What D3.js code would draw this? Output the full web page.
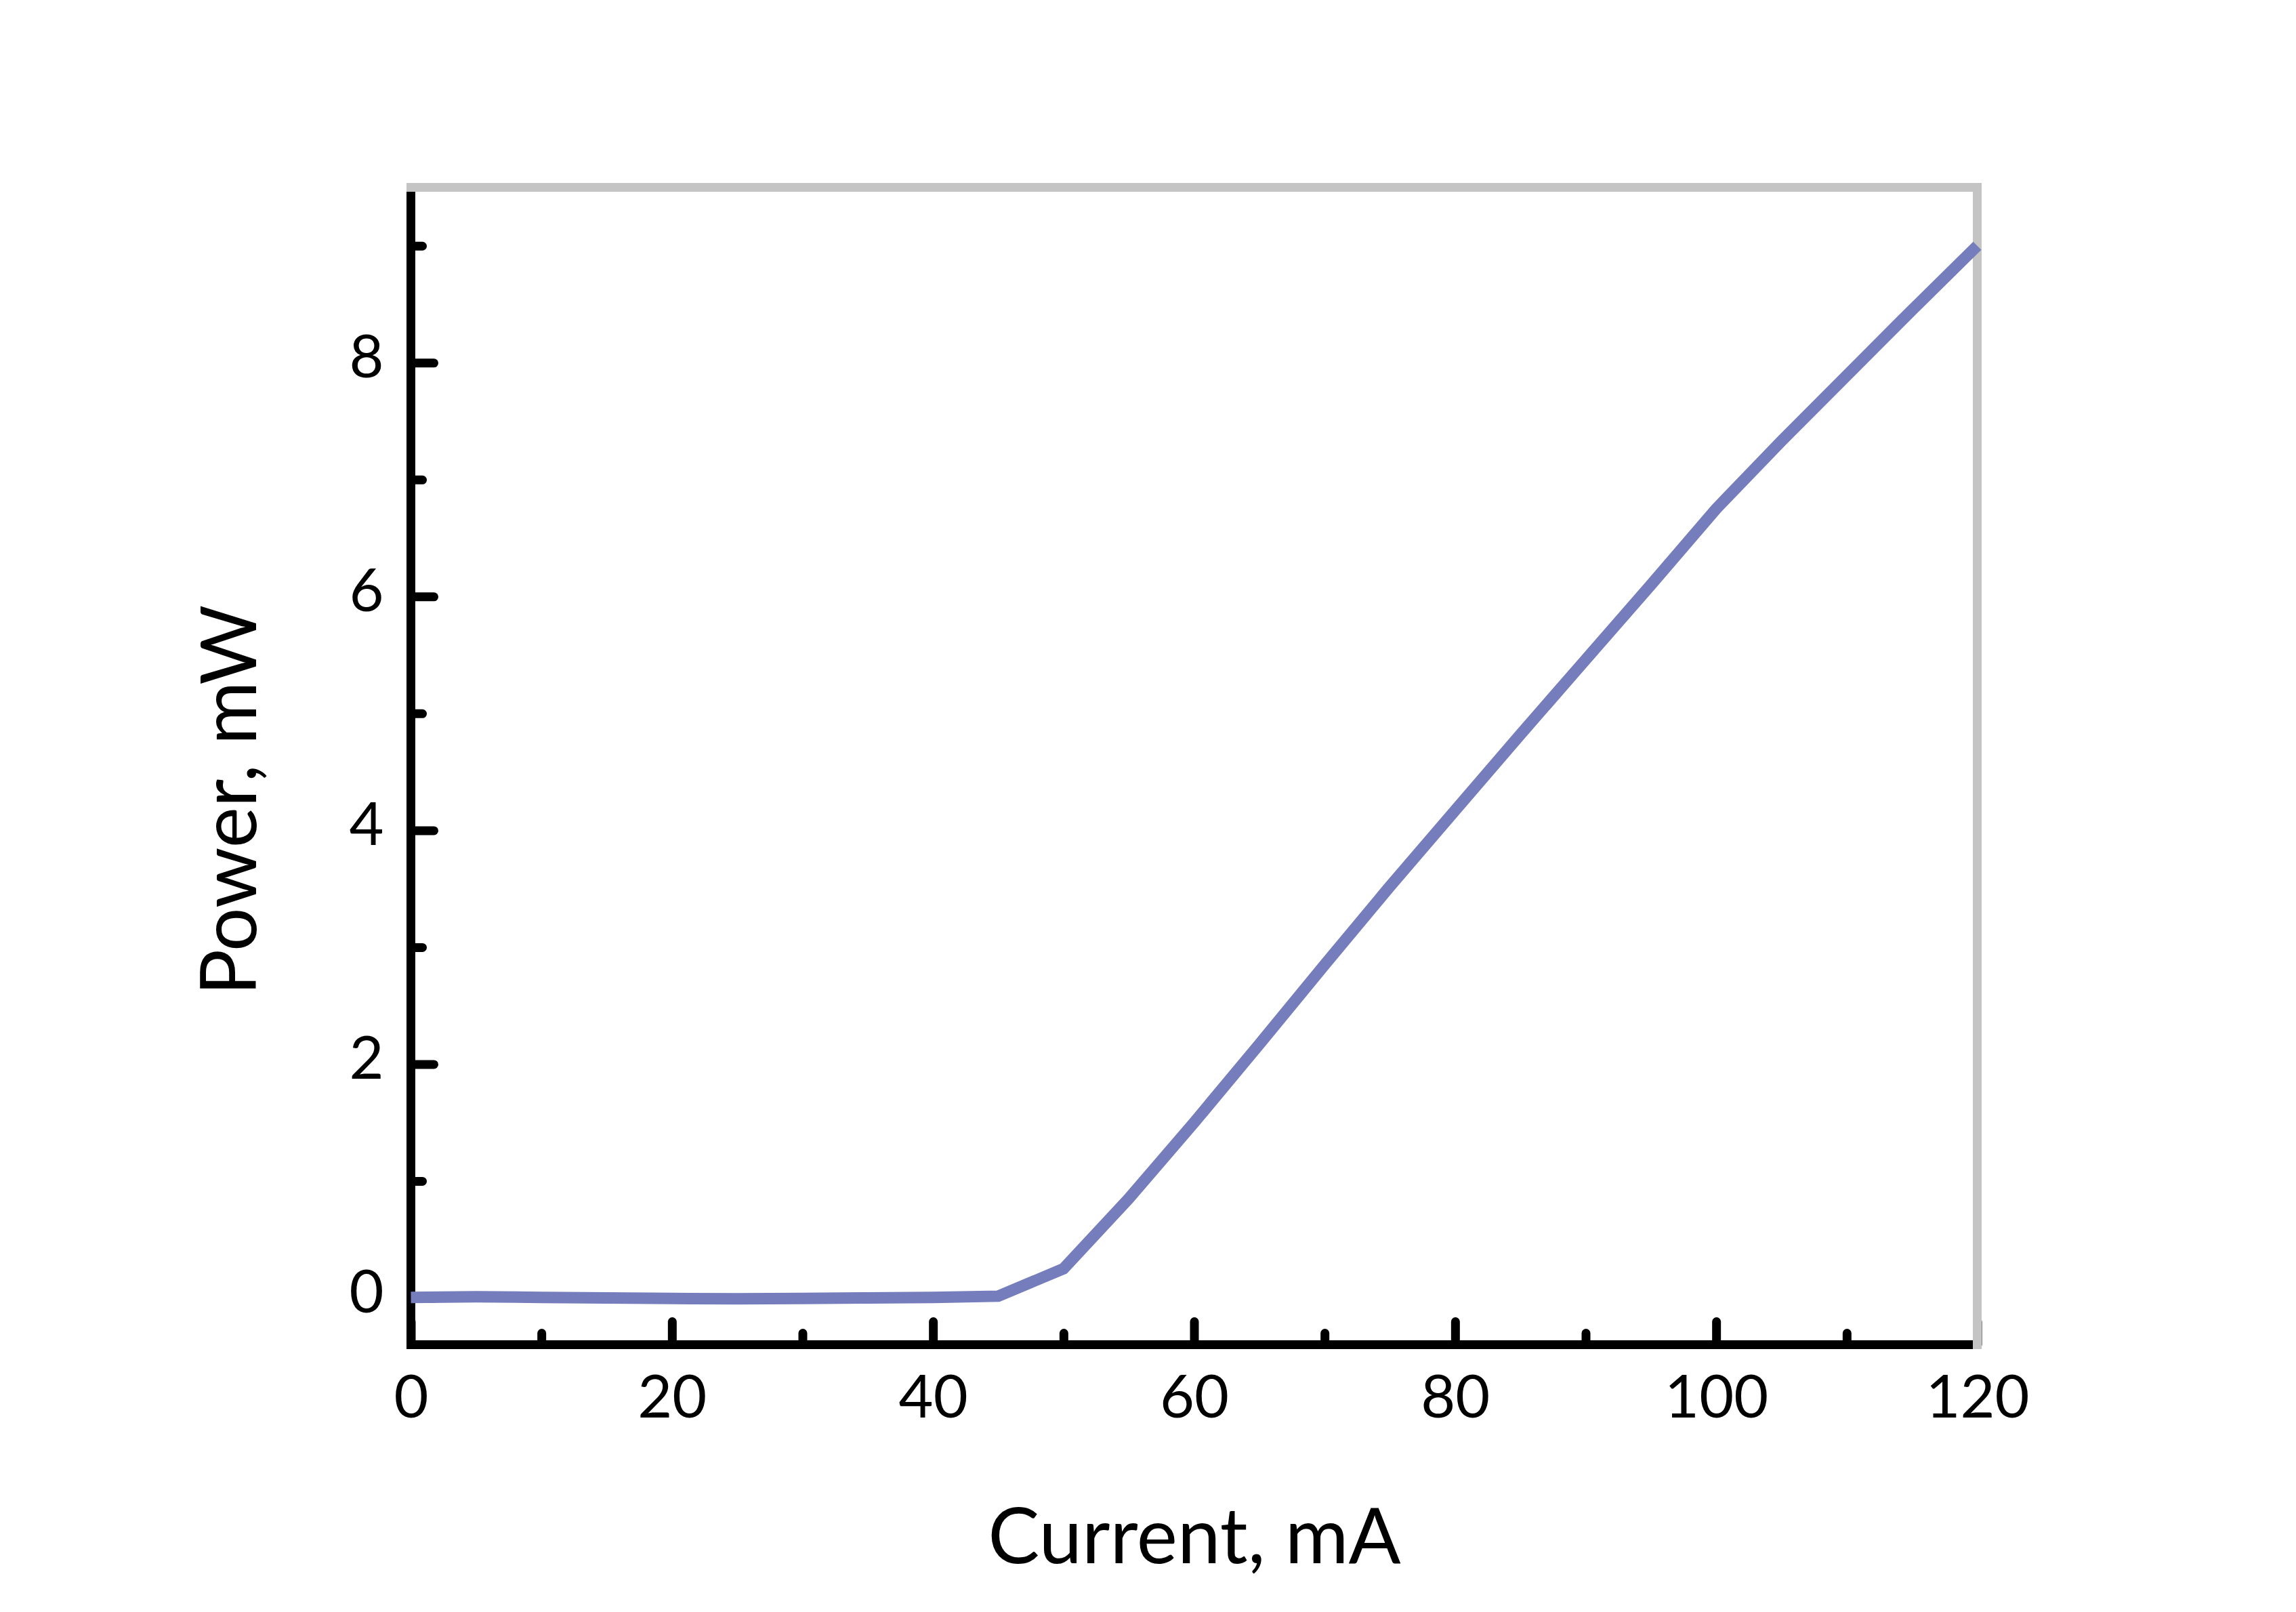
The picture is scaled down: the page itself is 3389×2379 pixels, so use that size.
<!DOCTYPE html>
<html>
<head>
<meta charset="utf-8">
<script src="https://cdn.jsdelivr.net/npm/d3@7"></script>
<style>
  html, body { margin: 0; padding: 0; background: #ffffff; }
  svg { display: block; }
</style>
</head>
<body>
<svg id="chart" width="3389" height="2379"></svg>
<script>
// ---- data ----
const currentMA = [0, 5, 10, 15, 20, 25, 30, 35, 40, 45, 50, 55, 60, 65, 70, 75, 80, 85, 90, 95, 100, 105, 110, 115, 120];
const powerMW   = [0.005, 0.01, 0.005, 0.0, -0.005, -0.008, -0.005, 0.0, 0.005, 0.015, 0.25, 0.85, 1.5, 2.17, 2.85, 3.52, 4.17, 4.82, 5.46, 6.1, 6.75, 7.33, 7.89, 8.45, 9.0];
const xMajorTicks = [0, 20, 40, 60, 80, 100, 120];
const xMinorTicks = [10, 30, 50, 70, 90, 110];
const yMajorTicks = [0, 2, 4, 6, 8];
const yMinorTicks = [1, 3, 5, 7, 9];
const xTitle = "Current, mA";
const yTitle = "Power, mW";

// ---- layout ----
const L = 606.5, R = 2918.5, T = 276.5, B = 1984.5;
const svg = d3.select("#chart");
const font = "Lato, 'Open Sans', sans-serif";

const x = d3.scaleLinear().domain([0, 120]).range([L, R]);
const y = d3.scaleLinear().domain([-0.4, 9.5]).range([B, T]);

// black left & bottom axes
const frame = svg.append("g");
frame.append("line").attr("x1", L).attr("x2", L).attr("y1", T).attr("y2", B)
  .attr("stroke", "#000").attr("stroke-width", 13).attr("stroke-linecap", "square");
frame.append("line").attr("x1", L).attr("x2", R).attr("y1", B).attr("y2", B)
  .attr("stroke", "#000").attr("stroke-width", 13).attr("stroke-linecap", "square");

function styleAxis(g) {
  g.select(".domain").remove();
  g.selectAll(".tick line").attr("stroke", "#000").attr("stroke-width", 13).attr("stroke-linecap", "round");
  g.selectAll(".tick text").attr("fill", "#000").style("font-family", font).style("font-size", "88px");
}

// x axis
svg.append("g").attr("transform", `translate(0,${B})`)
  .call(d3.axisBottom(x).tickValues(xMajorTicks).tickSize(-34).tickPadding(45.5).tickFormat(d3.format("d")))
  .call(styleAxis);
svg.append("g").attr("transform", `translate(0,${B})`)
  .call(d3.axisBottom(x).tickValues(xMinorTicks).tickSize(-17).tickFormat(""))
  .call(styleAxis);

// y axis
const yAxisG = svg.append("g").attr("transform", `translate(${L},0)`)
  .call(d3.axisLeft(y).tickValues(yMajorTicks).tickSize(-34).tickPadding(40).tickFormat(d3.format("d")))
  .call(styleAxis);
yAxisG.selectAll(".tick text").attr("dy", "0.24em");
svg.append("g").attr("transform", `translate(${L},0)`)
  .call(d3.axisLeft(y).tickValues(yMinorTicks).tickSize(-17).tickFormat(""))
  .call(styleAxis);

// gray top & right frame (on top of ticks)
const frame2 = svg.append("g");
frame2.append("line").attr("x1", L).attr("x2", R).attr("y1", T).attr("y2", T)
  .attr("stroke", "#c4c4c4").attr("stroke-width", 13).attr("stroke-linecap", "square");
frame2.append("line").attr("x1", R).attr("x2", R).attr("y1", T).attr("y2", B)
  .attr("stroke", "#c4c4c4").attr("stroke-width", 13).attr("stroke-linecap", "square");

// data line
const pts = currentMA.map((c, i) => [c, powerMW[i]]);
svg.append("path")
  .datum(pts)
  .attr("fill", "none")
  .attr("stroke", "#757dbc")
  .attr("stroke-width", 17)
  .attr("stroke-linejoin", "miter")
  .attr("stroke-linecap", "butt")
  .attr("d", d3.line().x(d => x(d[0])).y(d => y(d[1])));

// titles
svg.append("text")
  .attr("x", 1763).attr("y", 2307)
  .attr("text-anchor", "middle")
  .style("font-family", font).style("font-size", "114px").attr("fill", "#000")
  .text(xTitle);
svg.append("text")
  .attr("transform", "translate(378,1181) rotate(-90)")
  .attr("text-anchor", "middle")
  .style("font-family", font).style("font-size", "114px").attr("fill", "#000")
  .text(yTitle);
</script>
</body>
</html>
